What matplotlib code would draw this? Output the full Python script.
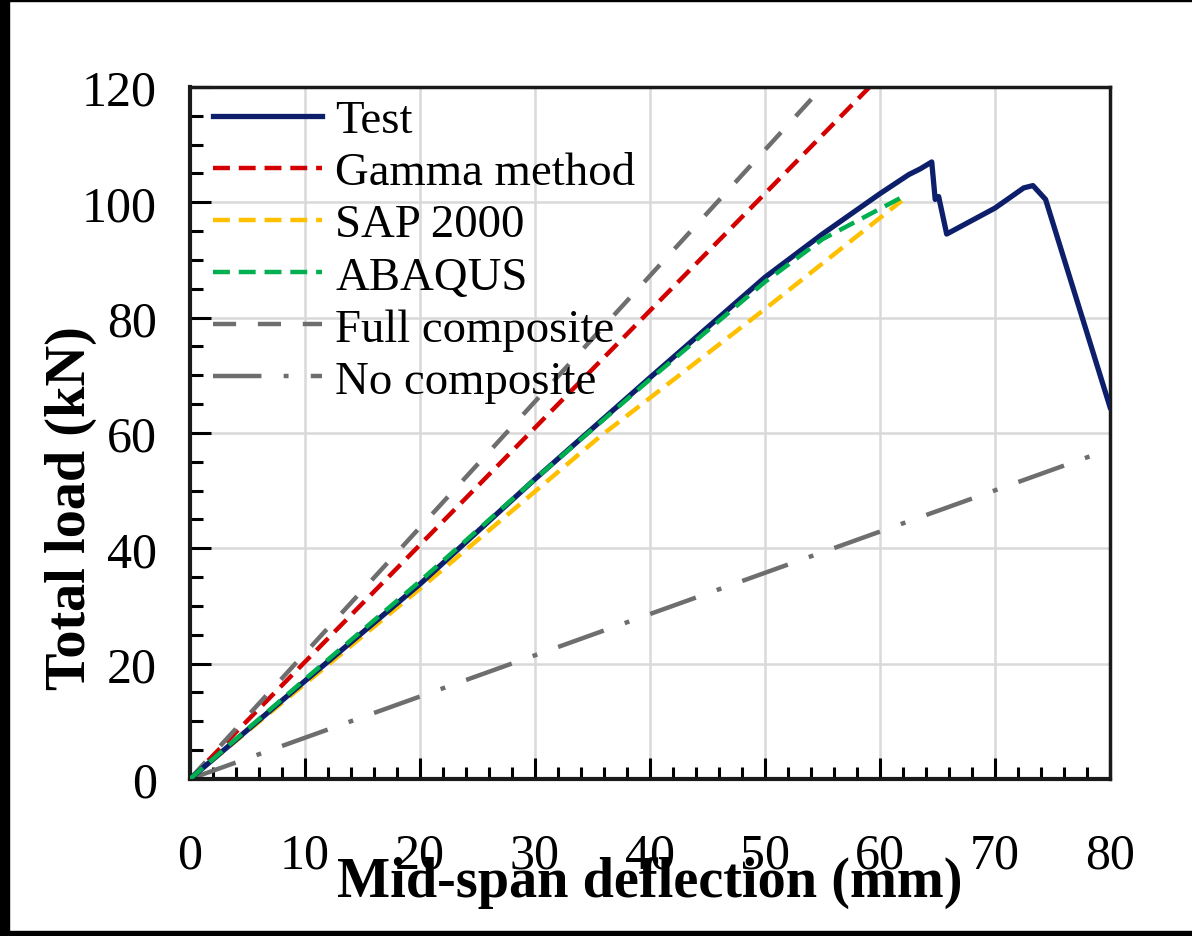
import matplotlib
matplotlib.use("Agg")
import matplotlib.pyplot as plt
from matplotlib.patches import Rectangle
from matplotlib.ticker import MultipleLocator

# Load-deflection data
test_x = [0, 5, 10, 20, 30, 40, 50, 55, 60, 62.5, 63.5, 64.5, 64.8, 65.1, 65.8, 70, 72.5, 73.3, 74.4, 80]
test_y = [0, 8.5, 17.0, 33.8, 52.0, 69.6, 87.0, 94.5, 101.5, 104.8, 105.8, 107.0, 100.5, 101.0, 94.5, 99.0, 102.5, 102.9, 100.5, 64.5]

gamma_x = [0, 59.1]
gamma_y = [0, 120]

sap_x = [0, 20, 35.6, 50, 61.9]
sap_y = [0, 33.0, 59.3, 81.5, 100.3]

abaqus_x = [0, 10, 20, 30, 40, 50, 55, 62.3]
abaqus_y = [0, 17.3, 34.3, 52.0, 69.3, 86.2, 93.6, 101.3]

full_x = [0, 55.0]
full_y = [0, 120]

nocomp_x = [0, 80]
nocomp_y = [0, 57.2]

plt.rcParams['font.family'] = ['Liberation Serif', 'DejaVu Serif']

fig = plt.figure(figsize=(11.92, 9.37), dpi=100)
ax = fig.add_axes([0.1594, 0.1676, 0.7718, 0.7385])

ax.plot(test_x, test_y, color='#0d1f6b', lw=3.8, solid_joinstyle='round', label='Test', zorder=5)
ax.plot(gamma_x, gamma_y, color='#d40000', lw=3.2, dashes=(3.8, 2.0), label='Gamma method')
ax.plot(sap_x, sap_y, color='#ffc000', lw=3.2, dashes=(3.8, 2.0), label='SAP 2000')
ax.plot(abaqus_x, abaqus_y, color='#00b050', lw=3.2, dashes=(3.8, 2.0), label='ABAQUS', zorder=6)
ax.plot(full_x, full_y, color='#6e6e6e', lw=3.2, dashes=(5.2, 4.9), label='Full composite')
ax.plot(nocomp_x, nocomp_y, color='#6e6e6e', lw=3.2, dashes=(10.9, 5.0, 1.1, 5.0), label='No composite')

ax.set_xlim(0, 80)
ax.set_ylim(0, 120)
ax.xaxis.set_major_locator(MultipleLocator(10))
ax.xaxis.set_minor_locator(MultipleLocator(2))
ax.yaxis.set_major_locator(MultipleLocator(20))
ax.yaxis.set_minor_locator(MultipleLocator(5))

ax.grid(True, which='major', color='#d9d9d9', lw=1.8, zorder=0)
ax.set_axisbelow(True)

ax.tick_params(which='both', direction='in', top=False, right=False, width=2.2, colors='black')
ax.tick_params(which='major', length=15)
ax.tick_params(which='minor', length=9)
ax.tick_params(axis='x', which='major', pad=38, labelsize=36)
ax.tick_params(axis='y', which='major', pad=24, labelsize=36)

ax.spines['left'].set_linewidth(3.0)
ax.spines['bottom'].set_linewidth(3.0)
ax.spines['top'].set_linewidth(2.5)
ax.spines['right'].set_linewidth(2.5)
for s in ax.spines.values():
    s.set_color('#1a1a1a')

ax.set_xlabel('Mid-span deflection (mm)', fontsize=40.5, fontweight='bold')
ax.xaxis.set_label_coords(0.5, -0.169)
ax.xaxis.label.set_verticalalignment('baseline')

ax.set_ylabel('Total load (kN)', fontsize=40.5, fontweight='bold')
ax.yaxis.set_label_coords(-0.130, 0.393)
ax.yaxis.label.set_verticalalignment('center')

leg = ax.legend(loc='upper left', bbox_to_anchor=(0.025, 0.982), frameon=False,
                fontsize=33.7, handlelength=2.33, handletextpad=0.28,
                labelspacing=0.2, borderpad=0, borderaxespad=0)

# black scan frame on left, top and bottom edges
W, H = 1192, 937
fig.patches.append(Rectangle((0, 0), 9 / W, 1, transform=fig.transFigure, color='black', zorder=10))
fig.patches.append(Rectangle((0, 1 - 2 / H), 1, 2 / H, transform=fig.transFigure, color='black', zorder=10))
fig.patches.append(Rectangle((0, 0), 1, 5 / H, transform=fig.transFigure, color='black', zorder=10))

plt.savefig("out.png", dpi=100)
